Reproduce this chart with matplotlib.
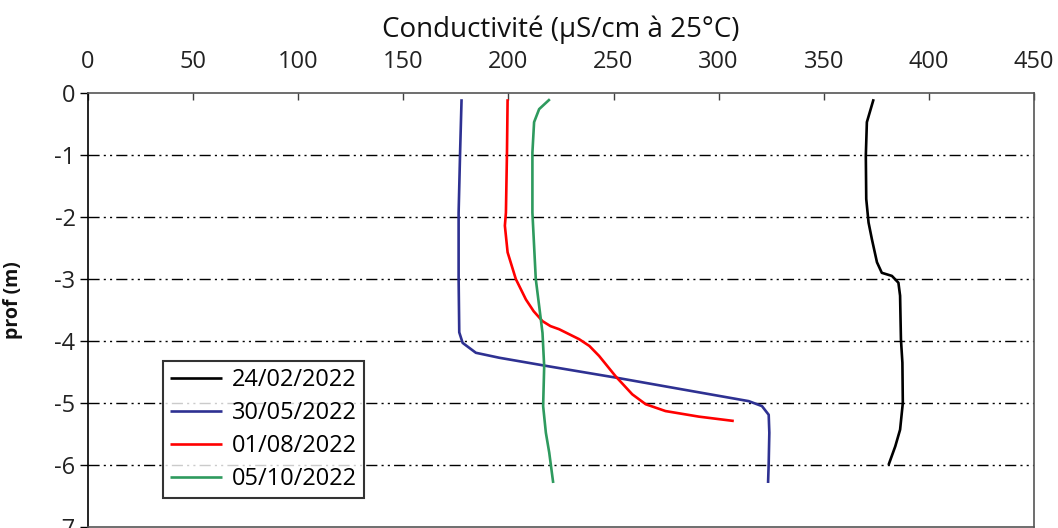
import matplotlib
matplotlib.use("Agg")
import matplotlib.pyplot as plt

# ---- data ----
labels = ["24/02/2022", "30/05/2022", "01/08/2022", "05/10/2022"]
colors = ["#000000", "#2E3192", "#FF0000", "#2E9A5E"]

cond_2402 = [373.7, 370.5, 370.0, 370.2, 371.3, 372.9, 375.3, 377.6, 382.4, 385.5, 386.3, 386.7, 387.4, 387.6, 386.3, 384.0, 380.8]
prof_2402 = [-0.10, -0.47, -1.01, -1.71, -2.09, -2.36, -2.73, -2.90, -2.95, -3.06, -3.27, -3.97, -4.35, -5.00, -5.43, -5.70, -6.00]

cond_3005 = [177.7, 177.0, 176.3, 176.3, 176.6, 178.2, 184.5, 195.6, 219.4, 251.0, 282.6, 314.3, 320.6, 323.8, 324.1, 323.8, 323.5]
prof_3005 = [-0.10, -0.96, -1.93, -3.00, -3.86, -4.03, -4.19, -4.27, -4.41, -4.59, -4.78, -4.97, -5.05, -5.19, -5.48, -5.97, -6.29]

cond_0108 = [199.6, 199.3, 198.8, 198.3, 199.6, 203.5, 208.3, 212.0, 216.2, 220.0, 224.1, 233.6, 238.5, 243.1, 251.0, 258.9, 265.3, 274.7, 290.6, 307.2]
prof_0108 = [-0.10, -0.96, -1.93, -2.14, -2.57, -3.00, -3.33, -3.52, -3.68, -3.76, -3.81, -3.97, -4.08, -4.24, -4.57, -4.86, -5.02, -5.13, -5.22, -5.29]

cond_0510 = [219.7, 214.6, 212.2, 211.4, 211.4, 213.0, 215.4, 216.2, 217.0, 216.5, 217.8, 219.4, 221.3]
prof_0510 = [-0.10, -0.26, -0.47, -0.96, -1.93, -3.00, -3.65, -3.87, -4.41, -5.05, -5.48, -5.80, -6.29]

x_ticks = [0, 50, 100, 150, 200, 250, 300, 350, 400, 450]
y_ticks = [0, -1, -2, -3, -4, -5, -6, -7]
x_label = "Conductivité (µS/cm à 25°C)"
y_label = "prof (m)"

plt.rcParams['font.family'] = ['Open Sans', 'DejaVu Sans']
plt.rcParams['axes.unicode_minus'] = False

W, H = 1058, 528
fig = plt.figure(figsize=(W / 100, H / 100), dpi=100)
left, right, top, bottom = 88, 1034, 93, 527
ax = fig.add_axes([left / W, 1 - bottom / H, (right - left) / W, (bottom - top) / H])

series = [(cond_2402, prof_2402), (cond_3005, prof_3005), (cond_0108, prof_0108), (cond_0510, prof_0510)]
for (c, p), lab, col in zip(series, labels, colors):
    ax.plot(c, p, color=col, lw=1.9, label=lab, solid_capstyle='butt', solid_joinstyle='round', zorder=3)

ax.set_xlim(0, 450)
ax.set_ylim(-7, 0)
ax.set_xticks(x_ticks)
ax.set_yticks(y_ticks)
ax.xaxis.tick_top()
ax.xaxis.set_label_position('top')
ax.tick_params(axis='x', direction='in', length=5, width=1, labelsize=17, pad=14, colors='#404040', labelcolor='#222222')
ax.tick_params(axis='y', direction='out', length=6, width=1, labelsize=17, pad=3, labelcolor='#222222')
ax.set_xlabel(x_label, fontsize=20, labelpad=9, color='#111111')
ax.set_ylabel(y_label, fontsize=14, fontweight='bold', color='#111111')
ax.yaxis.set_label_coords(-65 / (right - left), (bottom - 300) / (bottom - top))

for y in y_ticks[1:-1]:
    ax.axhline(y, color='black', lw=1.0, dashes=(8, 3, 1.5, 3, 1.5, 3), zorder=1)

for s in ['top', 'right', 'bottom']:
    ax.spines[s].set_color('#555555')
    ax.spines[s].set_linewidth(1.2)
ax.spines['left'].set_color('black')
ax.spines['left'].set_linewidth(1.2)

leg = ax.legend(loc='lower left', bbox_to_anchor=((163 - left) / (right - left), (bottom - 498) / (bottom - top)),
                fontsize=17, frameon=True, fancybox=False, edgecolor='black', handlelength=2.2,
                handletextpad=0.4, labelspacing=0.38, borderpad=0.3, borderaxespad=0)
leg.get_frame().set_linewidth(1.5)

fig.savefig("out.png", dpi=100)
